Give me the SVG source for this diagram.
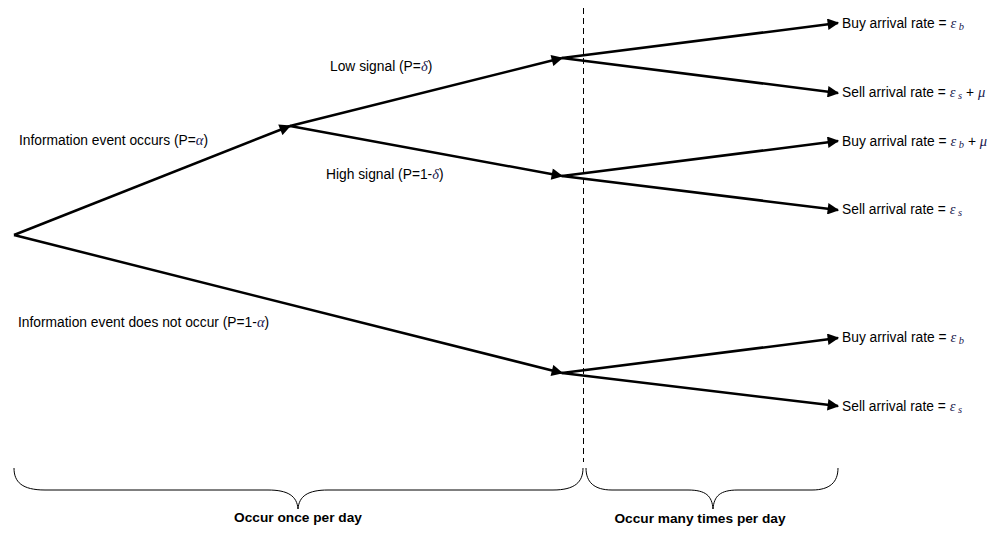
<svg xmlns="http://www.w3.org/2000/svg" width="999" height="534" viewBox="0 0 999 534">
<style>
.e{stroke:#000;stroke-width:2.5;fill:none;marker-end:url(#ah)}
.t{font-family:"Liberation Sans",Arial,sans-serif;font-size:13.8px;fill:#000}
.g{font-family:"Liberation Serif","Times New Roman",serif;font-style:italic;font-size:14.5px;fill:#1a1a50}
.s{font-size:10.5px}
.b{font-family:"Liberation Sans",Arial,sans-serif;font-size:13.7px;font-weight:bold;fill:#000}
.br{stroke:#000;stroke-width:1;fill:none}
</style>
<defs>
<marker id="ah" viewBox="0 0 10 10" refX="9" refY="5" markerWidth="5.4" markerHeight="4.6" orient="auto" markerUnits="strokeWidth">
<path d="M0,0 L10,5 L0,10 z" fill="#000"/>
</marker>
</defs>
<rect width="999" height="534" fill="#fff"/>
<g id="connectors">
<line class="e" x1="14" y1="235" x2="290" y2="126"/>
<line class="e" x1="14" y1="235" x2="562" y2="373"/>
<line class="e" x1="290" y1="126" x2="562" y2="58"/>
<line class="e" x1="290" y1="126" x2="562" y2="176"/>
<line class="e" x1="562" y1="58" x2="838" y2="23"/>
<line class="e" x1="562" y1="58" x2="838" y2="93"/>
<line class="e" x1="562" y1="176" x2="838" y2="141"/>
<line class="e" x1="562" y1="176" x2="838" y2="210"/>
<line class="e" x1="562" y1="373" x2="838" y2="338"/>
<line class="e" x1="562" y1="373" x2="838" y2="406"/>
</g>
<g id="divider">
<line x1="583.5" y1="8" x2="583.5" y2="462" stroke="#000" stroke-width="1" stroke-dasharray="6,4"/>
</g>
<g id="labels">
<text class="t" x="19" y="145">Information event occurs (P=<tspan class="g">α</tspan>)</text>
<text class="t" x="330" y="71">Low signal (P=<tspan class="g">δ</tspan>)</text>
<text class="t" x="326" y="179">High signal (P=1-<tspan class="g">δ</tspan>)</text>
<text class="t" x="18" y="327">Information event does not occur (P=1-<tspan class="g">α</tspan>)</text>
</g>
<g id="leaf1"><text class="t" x="842" y="28">Buy arrival rate = <tspan class="g">ε</tspan><tspan class="g s" dy="2"> b</tspan></text></g>
<g id="leaf2"><text class="t" x="842" y="97">Sell arrival rate = <tspan class="g">ε</tspan><tspan class="g s" dy="2"> s</tspan><tspan dy="-2"> + </tspan><tspan class="g">μ</tspan></text></g>
<g id="leaf3"><text class="t" x="842" y="146">Buy arrival rate = <tspan class="g">ε</tspan><tspan class="g s" dy="2"> b</tspan><tspan dy="-2"> + </tspan><tspan class="g">μ</tspan></text></g>
<g id="leaf4"><text class="t" x="842" y="214">Sell arrival rate = <tspan class="g">ε</tspan><tspan class="g s" dy="2"> s</tspan></text></g>
<g id="leaf5"><text class="t" x="842" y="342">Buy arrival rate = <tspan class="g">ε</tspan><tspan class="g s" dy="2"> b</tspan></text></g>
<g id="leaf6"><text class="t" x="842" y="411">Sell arrival rate = <tspan class="g">ε</tspan><tspan class="g s" dy="2"> s</tspan></text></g>
<g id="brace-once">
<path class="br" d="M14,468 C14,482 22,490 45,490 L268,490 C288,490 297,496 298,509 C299,496 308,490 328,490 L553,490 C575,490 583,482 583,468"/>
<text class="b" x="298" y="522" text-anchor="middle">Occur once per day</text>
</g>
<g id="brace-many">
<path class="br" d="M586,468 C586,482 594,490 612,490 L688,490 C706,490 712,496 713,509 C714,496 720,490 738,490 L812,490 C830,490 838,482 838,468"/>
<text class="b" x="700" y="523" text-anchor="middle">Occur many times per day</text>
</g>
</svg>
